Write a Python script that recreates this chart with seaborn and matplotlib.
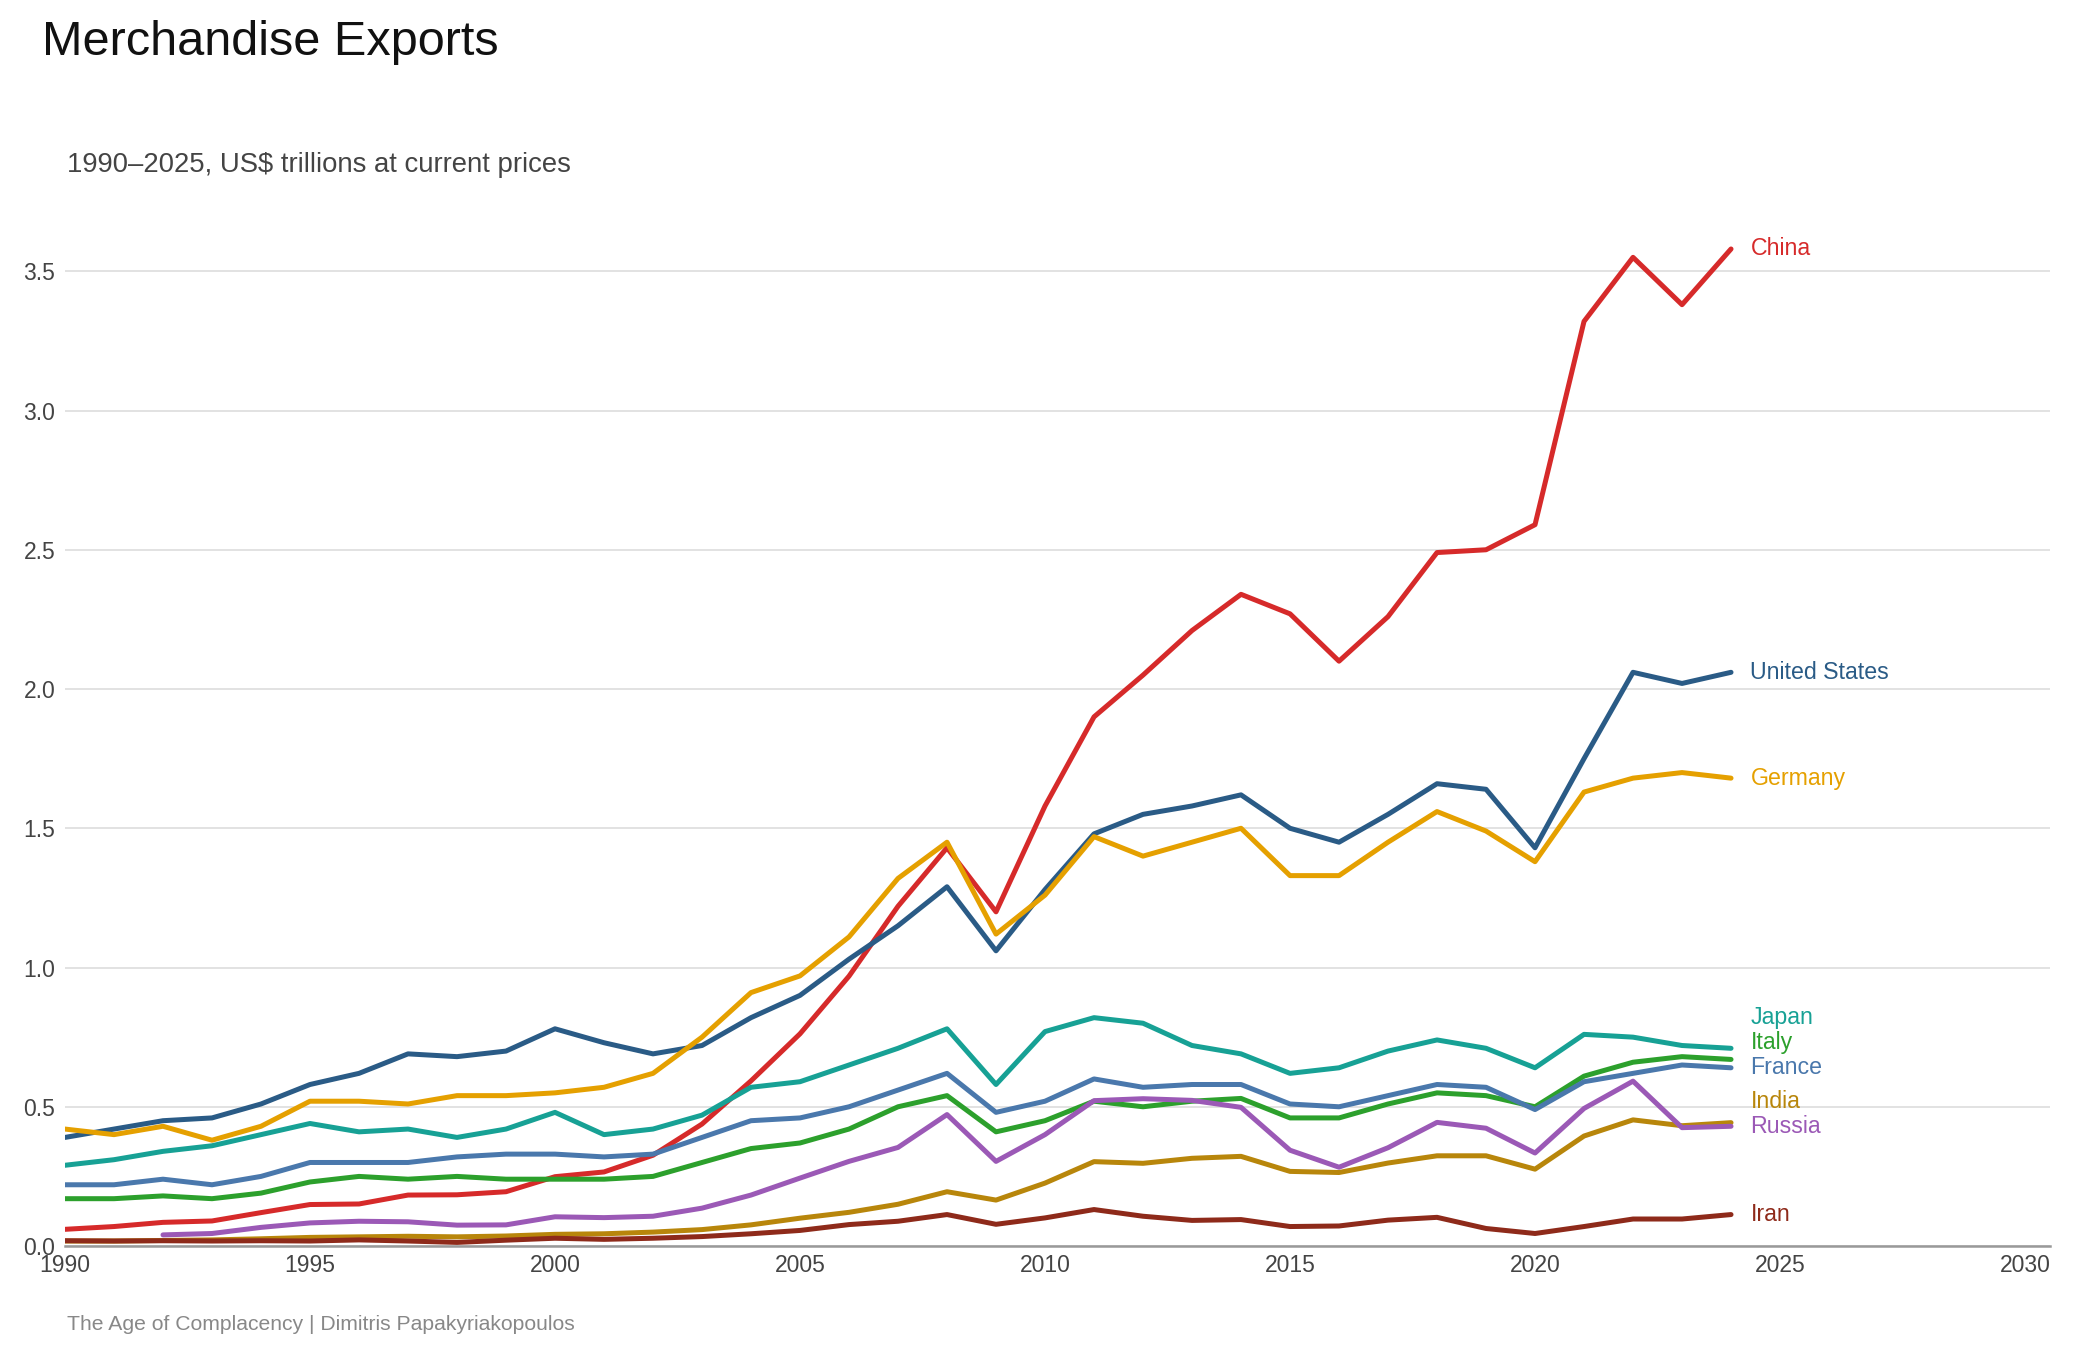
import pandas as pd
import seaborn as sns
import matplotlib.pyplot as plt

# Data (US$ trillions)
years = list(range(1990, 2025))

china = [0.06, 0.07, 0.085, 0.09, 0.12, 0.149, 0.151, 0.183, 0.184, 0.195,
         0.249, 0.266, 0.326, 0.438, 0.593, 0.762, 0.969, 1.22, 1.43, 1.20,
         1.58, 1.90, 2.05, 2.21, 2.34, 2.27, 2.10, 2.26, 2.49, 2.50,
         2.59, 3.32, 3.55, 3.38, 3.58]
usa = [0.39, 0.42, 0.45, 0.46, 0.51, 0.58, 0.62, 0.69, 0.68, 0.70,
       0.78, 0.73, 0.69, 0.72, 0.82, 0.90, 1.03, 1.15, 1.29, 1.06,
       1.28, 1.48, 1.55, 1.58, 1.62, 1.50, 1.45, 1.55, 1.66, 1.64,
       1.43, 1.75, 2.06, 2.02, 2.06]
germany = [0.42, 0.40, 0.43, 0.38, 0.43, 0.52, 0.52, 0.51, 0.54, 0.54,
           0.55, 0.57, 0.62, 0.75, 0.91, 0.97, 1.11, 1.32, 1.45, 1.12,
           1.26, 1.47, 1.40, 1.45, 1.50, 1.33, 1.33, 1.45, 1.56, 1.49,
           1.38, 1.63, 1.68, 1.70, 1.68]
japan = [0.29, 0.31, 0.34, 0.36, 0.40, 0.44, 0.41, 0.42, 0.39, 0.42,
         0.48, 0.40, 0.42, 0.47, 0.57, 0.59, 0.65, 0.71, 0.78, 0.58,
         0.77, 0.82, 0.80, 0.72, 0.69, 0.62, 0.64, 0.70, 0.74, 0.71,
         0.64, 0.76, 0.75, 0.72, 0.71]
italy = [0.17, 0.17, 0.18, 0.17, 0.19, 0.23, 0.25, 0.24, 0.25, 0.24,
         0.24, 0.24, 0.25, 0.30, 0.35, 0.37, 0.42, 0.50, 0.54, 0.41,
         0.45, 0.52, 0.50, 0.52, 0.53, 0.46, 0.46, 0.51, 0.55, 0.54,
         0.50, 0.61, 0.66, 0.68, 0.67]
france = [0.22, 0.22, 0.24, 0.22, 0.25, 0.30, 0.30, 0.30, 0.32, 0.33,
          0.33, 0.32, 0.33, 0.39, 0.45, 0.46, 0.50, 0.56, 0.62, 0.48,
          0.52, 0.60, 0.57, 0.58, 0.58, 0.51, 0.50, 0.54, 0.58, 0.57,
          0.49, 0.59, 0.62, 0.65, 0.64]
india = [0.018, 0.018, 0.020, 0.022, 0.026, 0.031, 0.033, 0.035, 0.033, 0.036,
         0.042, 0.044, 0.050, 0.059, 0.076, 0.100, 0.121, 0.150, 0.195, 0.165,
         0.226, 0.303, 0.297, 0.315, 0.322, 0.268, 0.264, 0.298, 0.324, 0.324,
         0.276, 0.395, 0.453, 0.432, 0.443]
russia = [None, None, 0.040, 0.045, 0.067, 0.083, 0.089, 0.087, 0.075, 0.076,
          0.105, 0.102, 0.107, 0.136, 0.183, 0.244, 0.304, 0.354, 0.472, 0.304,
          0.400, 0.522, 0.529, 0.523, 0.498, 0.344, 0.283, 0.353, 0.444, 0.423,
          0.334, 0.494, 0.592, 0.425, 0.430]
iran = [0.019, 0.018, 0.019, 0.018, 0.019, 0.018, 0.022, 0.018, 0.013, 0.021,
        0.028, 0.024, 0.028, 0.034, 0.044, 0.056, 0.077, 0.089, 0.113, 0.078,
        0.101, 0.131, 0.107, 0.092, 0.095, 0.070, 0.072, 0.093, 0.103, 0.063,
        0.045, 0.070, 0.097, 0.097, 0.113]

series = {
    "China": china, "United States": usa, "Germany": germany, "Japan": japan,
    "Italy": italy, "France": france, "India": india, "Russia": russia, "Iran": iran,
}
colors = {
    "China": "#d62a2a", "United States": "#2a5b86", "Germany": "#e5a000",
    "Japan": "#17a195", "Italy": "#2ca02c", "France": "#4a78ac",
    "India": "#b8860b", "Russia": "#9b59b6", "Iran": "#8e2a1a",
}

df = pd.DataFrame([(c, y, v) for c, vals in series.items() for y, v in zip(years, vals)],
                  columns=["Country", "Year", "Value"]).dropna()

sns.set_theme(style="white")
plt.rcParams["font.family"] = ["Liberation Sans", "DejaVu Sans"]

fig = plt.figure(figsize=(20.8, 13.6), dpi=100)
ax = fig.add_axes([0.03125, 0.0838, 0.9541, 0.7577])

sns.lineplot(data=df, x="Year", y="Value", hue="Country", palette=colors,
             linewidth=3.6, legend=False, ax=ax, solid_capstyle="round")

ax.set_xlim(1990, 2030.5)
ax.set_ylim(0, 3.7)
ax.set_xticks(range(1990, 2031, 5))
ax.set_yticks([0, 0.5, 1.0, 1.5, 2.0, 2.5, 3.0, 3.5])
ax.set_yticklabels([f"{t:.1f}" for t in ax.get_yticks()])
ax.set_xlabel("")
ax.set_ylabel("")
ax.yaxis.grid(True, color="#dddddd", linewidth=1.2)
ax.xaxis.grid(False)
for s in ["top", "right", "left"]:
    ax.spines[s].set_visible(False)
ax.spines["bottom"].set_color("#999999")
ax.spines["bottom"].set_linewidth(1.8)
ax.tick_params(axis="both", length=0, labelsize=16.5, colors="#444444")
ax.tick_params(axis="x", pad=6)
ax.tick_params(axis="y", pad=7)

# end labels, pushed upward to avoid overlap
last = sorted(((vals[-1], c) for c, vals in series.items()))
prev = -1
for val, c in last:
    ypos = max(val, prev + 0.09)
    prev = ypos
    ax.annotate(c, xy=(years[-1], ypos), xytext=(14, 0), textcoords="offset points",
                va="center", ha="left", fontsize=16.7, color=colors[c])

fig.text(0.0202, 0.9596, "Merchandise Exports", fontsize=35, color="#111111", va="baseline")
fig.text(0.0322, 0.8735, "1990\u20132025, US$ trillions at current prices",
         fontsize=19.8, color="#444444", va="baseline")
fig.text(0.0322, 0.022, "The Age of Complacency | Dimitris Papakyriakopoulos",
         fontsize=15.2, color="#888888", va="baseline")

fig.savefig("out.png", dpi=100)
